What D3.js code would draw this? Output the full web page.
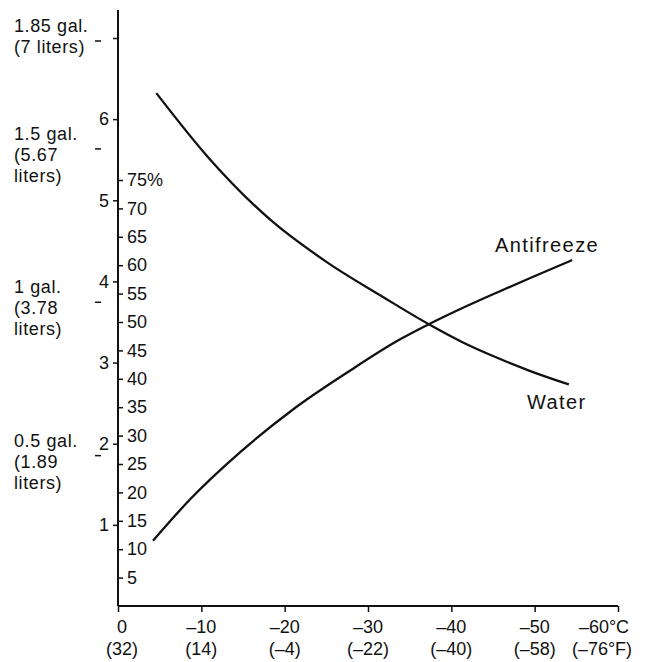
<!DOCTYPE html>
<html>
<head>
<meta charset="utf-8">
<script src="https://cdn.jsdelivr.net/npm/d3@7"></script>
<style>
  body { margin: 0; background: #fff; }
  text { font-family: "Liberation Sans", Arial, sans-serif; fill: #111; }
</style>
</head>
<body>
<div class="chart"></div>
<script>
// DATA ------------------------------
const celsiusTicks = [0, -10, -20, -30, -40, -50, -60];
const celsiusLabels = ["0", "–10", "–20", "–30", "–40", "–50", "–60°C"];
const fahrenLabels = ["(32)", "(14)", "(–4)", "(–22)", "(–40)", "(–58)", "(–76°F)"];

const literTicks = [1, 2, 3, 4, 5, 6, 7];
const pctTicks = [5, 10, 15, 20, 25, 30, 35, 40, 45, 50, 55, 60, 65, 70, 75];

const gallonLiters = [7, 5.67, 3.78, 1.89];
const gallonLabels = [
  ["1.85 gal.", "(7 liters)"],
  ["1.5 gal.", "(5.67", "liters)"],
  ["1 gal.", "(3.78", "liters)"],
  ["0.5 gal.", "(1.89", "liters)"]
];

// freezing point (C) vs share of the 7 liter system (%)
const waterC   = [-4.6, -10.7, -18.2, -25.1, -31.8, -37.3, -41.4, -45.5, -49.4, -54.1];
const waterPct = [90.3, 79.2, 68.1, 60.5, 54.4, 49.6, 46.4, 43.7, 41.4, 39.0];
const antiC    = [-4.2, -8.6, -14.6, -21.0, -27.5, -33.8, -37.3, -41.4, -45.5, -49.4, -54.5];
const antiPct  = [11.5, 18.7, 27.0, 34.6, 41.1, 46.9, 49.6, 52.5, 55.2, 57.7, 60.9];

// CHART INIT ------------------------------
const W = 650, H = 662;
const svg = d3.select(".chart").append("svg")
  .attr("width", W)
  .attr("height", H);

const x0 = 118, x1 = 618, yBase = 606, yTop = 10;

const xScale = d3.scaleLinear().domain([0, -60]).range([x0, x1]);
// 100% of the mix == 7 liters
const literScale = d3.scaleLinear().domain([0, 7]).range([yBase, 38]);
const pctScale = d3.scaleLinear().domain([0, 100]).range([yBase, 38]);

// vertical axis line
svg.append("line")
  .attr("x1", x0).attr("x2", x0)
  .attr("y1", yTop).attr("y2", yBase)
  .attr("stroke", "#111").attr("stroke-width", 2);

// liters axis (left)
const litersAxis = d3.axisLeft(literScale)
  .tickValues(literTicks)
  .tickSize(5)
  .tickPadding(4)
  .tickFormat(d => d === 7 ? "" : d);

svg.append("g")
  .attr("class", "y-axis")
  .attr("transform", `translate(${x0},0)`)
  .call(litersAxis)
  .call(g => g.select(".domain").remove())
  .call(g => g.selectAll("line").attr("stroke", "#111").attr("stroke-width", 1.5))
  .call(g => g.selectAll("text").attr("font-size", 18).attr("fill", "#111")
    .attr("font-family", "Liberation Sans, Arial, sans-serif"));

// percent axis (right of the line)
const pctAxis = d3.axisRight(pctScale)
  .tickValues(pctTicks)
  .tickSize(5)
  .tickPadding(4)
  .tickFormat(d => d === 75 ? "75%" : d);

svg.append("g")
  .attr("class", "pct-axis")
  .attr("transform", `translate(${x0},0)`)
  .call(pctAxis)
  .call(g => g.select(".domain").remove())
  .call(g => g.selectAll("line").attr("stroke", "#111").attr("stroke-width", 1.5))
  .call(g => g.selectAll("text").attr("font-size", 18).attr("fill", "#111")
    .attr("font-family", "Liberation Sans, Arial, sans-serif"));

// gallon marks
svg.selectAll(".gal-dash")
  .data(gallonLiters)
  .enter()
  .append("line")
  .attr("class", "gal-dash")
  .attr("x1", 95).attr("x2", 101)
  .attr("y1", d => literScale(d) + 3)
  .attr("y2", d => literScale(d) + 3)
  .attr("stroke", "#111").attr("stroke-width", 1.5);

const galText = svg.selectAll(".gal-label")
  .data(gallonLiters)
  .enter()
  .append("text")
  .attr("class", "gal-label")
  .attr("font-size", 18)
  .attr("letter-spacing", 0.6)
  .attr("x", 14)
  .attr("y", d => literScale(d) - 6);

galText.each(function(d, i) {
  d3.select(this).selectAll("tspan")
    .data(gallonLabels[i])
    .enter()
    .append("tspan")
    .attr("x", 14)
    .attr("dy", (t, j) => j === 0 ? 0 : 21)
    .text(t => t);
});

// horizontal axis
const xAxis = d3.axisBottom(xScale)
  .tickValues(celsiusTicks)
  .tickSize(6)
  .tickFormat("");

svg.append("g")
  .attr("class", "x-axis")
  .attr("transform", `translate(0,${yBase})`)
  .call(xAxis)
  .call(g => g.select(".domain").attr("stroke", "#111").attr("stroke-width", 2)
    .attr("d", `M${x0},0H${x1}`))
  .call(g => g.selectAll("line").attr("stroke", "#111").attr("stroke-width", 1.5));

svg.selectAll(".c-label")
  .data(celsiusTicks)
  .enter()
  .append("text")
  .attr("class", "c-label")
  .attr("font-size", 18)
  .attr("text-anchor", "middle")
  .attr("x", (d, i) => i === 6 ? xScale(d) - 14 : xScale(d) + (i === 0 ? 4 : 0))
  .attr("y", 633)
  .text((d, i) => celsiusLabels[i]);

svg.selectAll(".f-label")
  .data(celsiusTicks)
  .enter()
  .append("text")
  .attr("class", "f-label")
  .attr("font-size", 18)
  .attr("text-anchor", "middle")
  .attr("x", (d, i) => i === 6 ? xScale(d) - 16 : xScale(d) + (i === 0 ? 4 : 0))
  .attr("y", 655)
  .text((d, i) => fahrenLabels[i]);

// CURVES ---------------------------
const line = d3.line()
  .x(d => xScale(d[0]))
  .y(d => pctScale(d[1]))
  .curve(d3.curveMonotoneX);

const water = waterC.map((c, i) => [c, waterPct[i]]);
const anti = antiC.map((c, i) => [c, antiPct[i]]);

svg.append("path")
  .datum(water)
  .attr("fill", "none")
  .attr("stroke", "#111")
  .attr("stroke-width", 2.3)
  .attr("d", line);

svg.append("path")
  .datum(anti)
  .attr("fill", "none")
  .attr("stroke", "#111")
  .attr("stroke-width", 2.3)
  .attr("d", line);

svg.append("text")
  .attr("font-size", 20)
  .attr("letter-spacing", 1.4)
  .attr("x", 495)
  .attr("y", 252)
  .text("Antifreeze");

svg.append("text")
  .attr("font-size", 20)
  .attr("letter-spacing", 1.4)
  .attr("x", 527)
  .attr("y", 409)
  .text("Water");
</script>
</body>
</html>
